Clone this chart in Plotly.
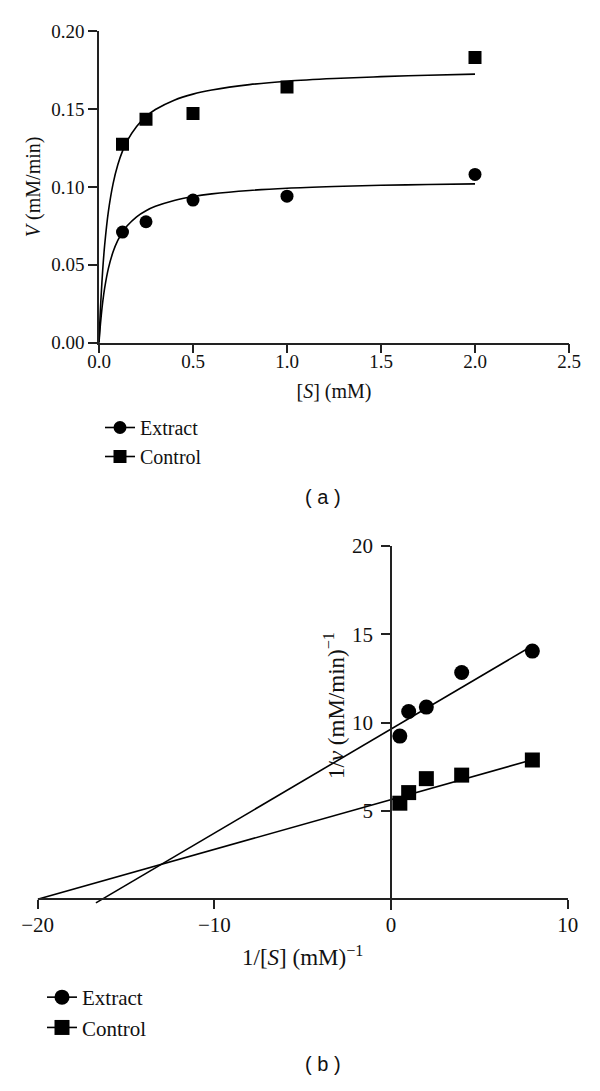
import plotly.graph_objects as go

# ---- Panel (a): Michaelis-Menten ----
S_mM = [0.125, 0.25, 0.5, 1.0, 2.0]
v_extract = [0.071, 0.0776, 0.0915, 0.094, 0.108]
v_control = [0.1274, 0.1434, 0.147, 0.164, 0.183]

# fitted curves
curve_S = [0, 0.005, 0.01, 0.02, 0.03, 0.05, 0.075, 0.1, 0.125, 0.15, 0.2, 0.25,
           0.3, 0.4, 0.5, 0.6, 0.8, 1.0, 1.25, 1.5, 1.75, 2.0]
curve_extract = [0, 0.0081, 0.015, 0.0263, 0.035, 0.0477, 0.0583, 0.0656, 0.0709, 0.075,
                 0.0808, 0.0847, 0.0875, 0.0913, 0.0938, 0.0955, 0.0977, 0.0991, 0.1002,
                 0.101, 0.1015, 0.1019]
curve_control = [0, 0.0148, 0.0272, 0.0472, 0.0625, 0.0843, 0.1021, 0.1142, 0.1229, 0.1295,
                 0.1388, 0.1451, 0.1496, 0.1556, 0.1595, 0.1621, 0.1656, 0.1678, 0.1695,
                 0.1707, 0.1716, 0.1723]

# ---- Panel (b): Lineweaver-Burk ----
inv_S = [8, 4, 2, 1, 0.5]
inv_v_extract = [14.05, 12.84, 10.88, 10.63, 9.24]
inv_v_control = [7.88, 7.03, 6.83, 6.04, 5.44]

lb_extract_x = [-16.7, 8]
lb_extract_y = [-0.2, 14.35]
lb_control_x = [-20, 8]
lb_control_y = [0, 7.9]

xa_ticks = [0, 0.5, 1.0, 1.5, 2.0, 2.5]
ya_ticks = [0, 0.05, 0.10, 0.15, 0.20]
xb_ticks = [-20, -10, 0, 10]
xb_text = ["\u221220", "\u221210", "0", "10"]
yb_ticks = [5, 10, 15, 20]

FONT = "Liberation Serif"
BLACK = "#000000"
AX = "#222222"
W, H, OFF = 600.0, 1091.0, 8.0  # page body margin offset


def px(X):
    return (X - OFF) / W


def py(Y):
    return 1 - (Y - OFF) / H


fig = go.Figure()

# panel a
fig.add_trace(go.Scatter(x=curve_S, y=curve_extract, mode="lines", line=dict(color=BLACK, width=1.6, shape="spline"),
                         showlegend=False, xaxis="x", yaxis="y", hoverinfo="skip"))
fig.add_trace(go.Scatter(x=curve_S, y=curve_control, mode="lines", line=dict(color=BLACK, width=1.6, shape="spline"),
                         showlegend=False, xaxis="x", yaxis="y", hoverinfo="skip"))
fig.add_trace(go.Scatter(x=S_mM, y=v_extract, mode="markers", marker=dict(symbol="circle", size=13, color=BLACK),
                         showlegend=False, xaxis="x", yaxis="y"))
fig.add_trace(go.Scatter(x=S_mM, y=v_control, mode="markers", marker=dict(symbol="square", size=13, color=BLACK),
                         showlegend=False, xaxis="x", yaxis="y"))
fig.add_trace(go.Scatter(x=[None], y=[None], mode="lines+markers", name="Extract",
                         marker=dict(symbol="circle", size=13, color=BLACK), line=dict(color=BLACK, width=1.6),
                         xaxis="x", yaxis="y", legend="legend"))
fig.add_trace(go.Scatter(x=[None], y=[None], mode="lines+markers", name="Control",
                         marker=dict(symbol="square", size=13, color=BLACK), line=dict(color=BLACK, width=1.6),
                         xaxis="x", yaxis="y", legend="legend"))

# panel b
fig.add_trace(go.Scatter(x=lb_extract_x, y=lb_extract_y, mode="lines", line=dict(color=BLACK, width=1.6),
                         showlegend=False, xaxis="x2", yaxis="y2", hoverinfo="skip"))
fig.add_trace(go.Scatter(x=lb_control_x, y=lb_control_y, mode="lines", line=dict(color=BLACK, width=1.6),
                         showlegend=False, xaxis="x2", yaxis="y2", hoverinfo="skip"))
fig.add_trace(go.Scatter(x=inv_S, y=inv_v_extract, mode="markers", marker=dict(symbol="circle", size=15, color=BLACK),
                         showlegend=False, xaxis="x2", yaxis="y2"))
fig.add_trace(go.Scatter(x=inv_S, y=inv_v_control, mode="markers", marker=dict(symbol="square", size=15, color=BLACK),
                         showlegend=False, xaxis="x2", yaxis="y2"))
fig.add_trace(go.Scatter(x=[None], y=[None], mode="lines+markers", name="Extract",
                         marker=dict(symbol="circle", size=15, color=BLACK), line=dict(color=BLACK, width=1.6),
                         xaxis="x2", yaxis="y2", legend="legend2"))
fig.add_trace(go.Scatter(x=[None], y=[None], mode="lines+markers", name="Control",
                         marker=dict(symbol="square", size=15, color=BLACK), line=dict(color=BLACK, width=1.6),
                         xaxis="x2", yaxis="y2", legend="legend2"))

common = dict(showline=True, linecolor=AX, linewidth=1.5, ticks="outside", ticklen=9, tickwidth=1.5,
              tickcolor=AX, showgrid=False, zeroline=False, automargin=False)

fig.update_layout(
    width=600, height=1091,
    margin=dict(l=0, r=0, t=0, b=0, autoexpand=False),
    paper_bgcolor="white", plot_bgcolor="white",
    font=dict(family=FONT, color="#111111", size=19),
    xaxis=dict(domain=[px(99), px(569)], range=[0, 2.5], anchor="y", tickvals=xa_ticks, tickformat=".1f",
               tickfont=dict(size=19), ticklabelstandoff=-8,
               title=dict(text="[<i>S</i>] (mM)", font=dict(size=20), standoff=13), **common),
    yaxis=dict(domain=[py(342.7), py(31)], range=[0, 0.2], anchor="x", tickvals=ya_ticks, tickformat=".2f",
               tickfont=dict(size=19),
               title=dict(text="<i>V</i> (mM/min)", font=dict(size=20), standoff=5), **common),
    xaxis2=dict(domain=[px(37.6), px(567.7)], range=[-20, 10], anchor="free", position=py(899.3),
                tickvals=xb_ticks, ticktext=xb_text, tickfont=dict(size=21), ticklabelstandoff=-2,
                title=dict(text="1/[<i>S</i>] (mM)<sup>\u22121</sup>", font=dict(size=23), standoff=12), **common),
    yaxis2=dict(domain=[py(909.9), py(546)], range=[-0.6, 20], anchor="free", position=px(391),
                tickvals=yb_ticks, tickfont=dict(size=21), ticklabelstandoff=4, **common),
    legend=dict(x=px(100), y=py(408), xanchor="left", yanchor="top", bgcolor="rgba(0,0,0,0)",
                font=dict(size=20, family=FONT), traceorder="normal"),
    legend2=dict(x=px(42), y=py(977), xanchor="left", yanchor="top", bgcolor="rgba(0,0,0,0)",
                 font=dict(size=21, family=FONT), traceorder="normal"),
    annotations=[
        dict(text="1/<i>v</i> (mM/min)<sup>\u22121</sup>", x=px(334), y=py(706), xref="paper", yref="paper",
             textangle=-90, xanchor="center", yanchor="middle", showarrow=False,
             font=dict(family=FONT, size=23, color="#111111")),
        dict(text="( a )", x=px(323), y=py(497), xref="paper", yref="paper", showarrow=False,
             font=dict(family="Liberation Sans", size=20, color="#111111")),
        dict(text="( b )", x=px(323), y=py(1077), xref="paper", yref="paper", showarrow=False,
             font=dict(family="Liberation Sans", size=20, color="#111111")),
    ],
)

fig.write_html("out.html")
